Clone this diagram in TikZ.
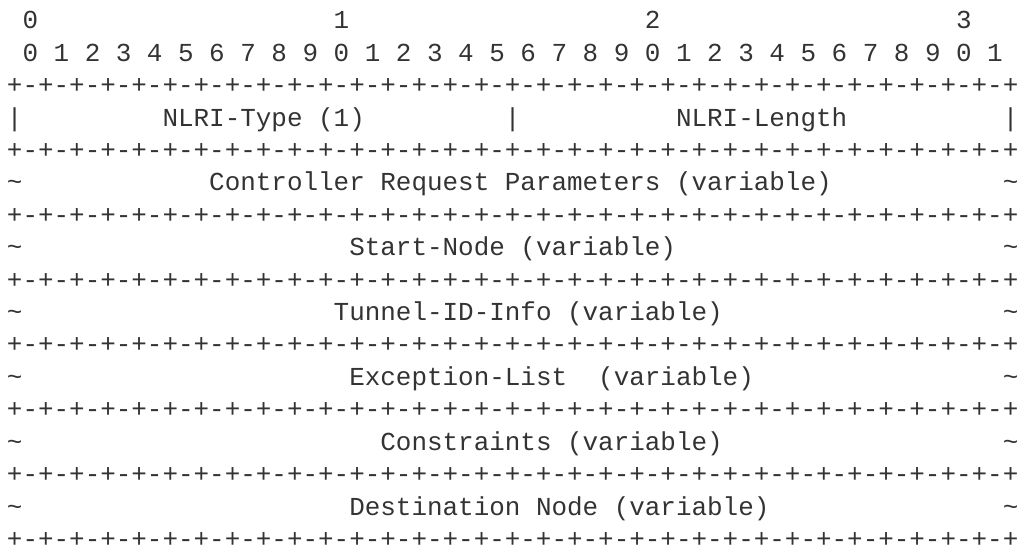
\documentclass[tikz,border=0pt]{standalone}
\usepackage{fontspec}
\usepackage{xcolor}
\usepackage{tikz}
\usetikzlibrary{positioning}
\newfontfamily\asciifont{Liberation Mono}
\definecolor{ink}{HTML}{333333}
\tikzset{
  cell/.style={font=\asciifont\fontsize{19.45pt}{24pt}\selectfont,text=ink,inner sep=0pt,anchor=base west},
  edge/.style={cell,text depth=0pt}
}

\begin{document}
\begin{tikzpicture}[x=11.67pt,y=-24.3pt]
  \useasboundingbox (0,0) rectangle (65.617,16.975);
  \begin{scope}[shift={(0.43,-0.105)}]
  % bit ruler
  \foreach \i in {0,...,3}
    \node[cell] (dec\i) at ({1+20*\i},1) {\i};
  \foreach \i in {0,...,31}{
    \pgfmathtruncatemacro\d{mod(\i,10)}
    \node[cell] (bit\i) at ({1+2*\i},2) {\d};
  }
  % separator lines
  \foreach \r in {3,5,...,17}
    \node[edge] (sep\r) at (0,\r) {+-+-+-+-+-+-+-+-+-+-+-+-+-+-+-+-+-+-+-+-+-+-+-+-+-+-+-+-+-+-+-+-+};

  % fixed header
  \node[cell] (barl) at (0,4) {|};
  \node[cell] (type) at (10,4) {NLRI-Type (1)};
  \node[cell] (barm) at (32,4) {|};
  \node[cell] (len) at (43,4) {NLRI-Length};
  \node[cell] (barr) at (64,4) {|};

  % variable fields
  \foreach \r/\c/\t in {6/13/Controller Request Parameters (variable),
                        8/22/Start-Node (variable),
                        10/21/Tunnel-ID-Info (variable),
                        12/22/Exception-List\ \ (variable),
                        14/24/Constraints (variable),
                        16/22/Destination Node (variable)}{
    \node[edge] (tl\r) at (0,\r) {\textasciitilde};
    \node[cell] (fld\r) at (\c,\r) {\t};
    \node[edge] (tr\r) at (64,\r) {\textasciitilde};
  }
  \end{scope}
\end{tikzpicture}
\end{document}
